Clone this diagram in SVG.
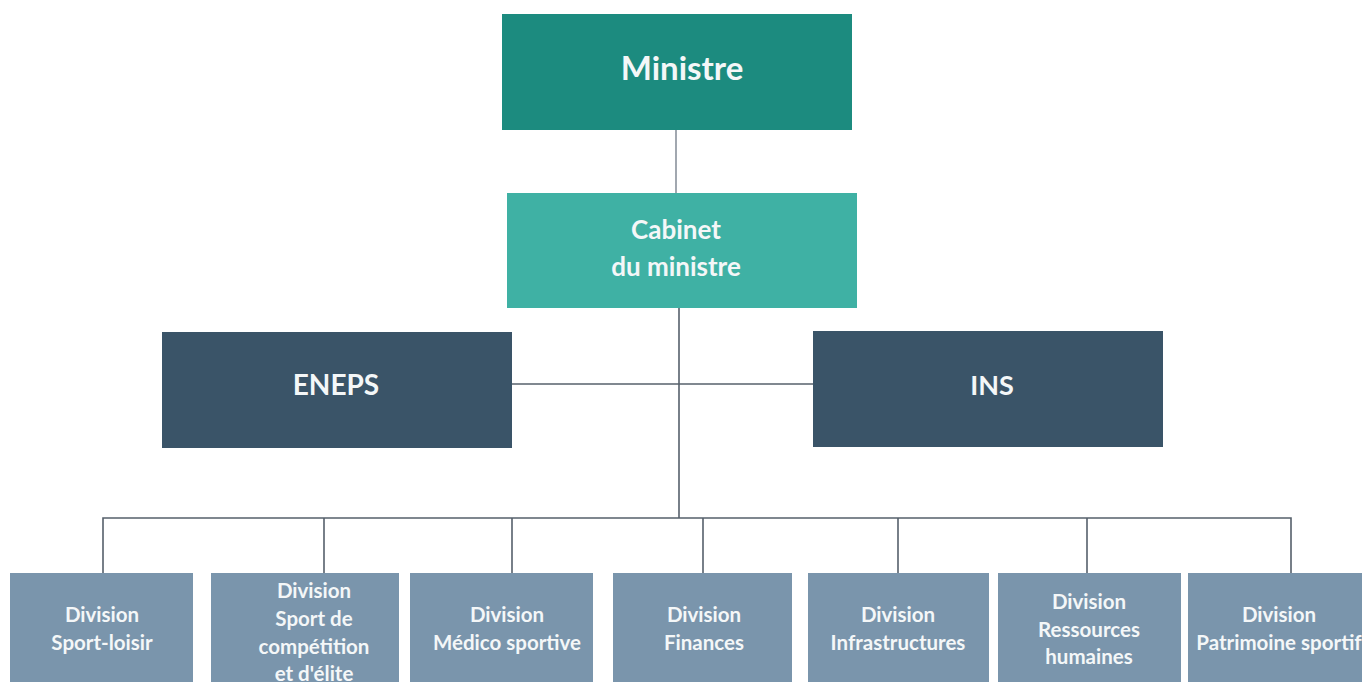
<svg xmlns="http://www.w3.org/2000/svg" width="1362" height="682" viewBox="0 0 1362 682">
<style>
text{font-family:Lato,"Open Sans","Liberation Sans",sans-serif;font-weight:bold;fill:#f4f7f8;text-anchor:middle;dominant-baseline:central}
.ln{stroke:#56606b;stroke-width:1.6;fill:none}
.div rect{fill:#7a95ac}
.div text{font-size:20.5px}
</style>
<rect width="1362" height="682" fill="#ffffff"/>
<g id="connectors">
<line class="ln" x1="676" y1="130" x2="676" y2="193" style="stroke:#8a929c"/>
<line class="ln" x1="679" y1="308" x2="679" y2="518"/>
<line class="ln" x1="512" y1="384" x2="813" y2="384"/>
<polyline class="ln" points="103,573 103,518 1291,518 1291,573"/>
<line class="ln" x1="324" y1="518" x2="324" y2="573"/>
<line class="ln" x1="512" y1="518" x2="512" y2="573"/>
<line class="ln" x1="703" y1="518" x2="703" y2="573"/>
<line class="ln" x1="898" y1="518" x2="898" y2="573"/>
<line class="ln" x1="1087" y1="518" x2="1087" y2="573"/>
</g>
<g id="ministre">
<rect x="502" y="14" width="350" height="116" fill="#1c8b7f"/>
<text x="682" y="67" font-size="33">Ministre</text>
</g>
<g id="cabinet">
<rect x="507" y="193" width="350" height="115" fill="#3fb1a4"/>
<text x="676" y="229" font-size="26">Cabinet</text>
<text x="676" y="266" font-size="26">du ministre</text>
</g>
<g id="eneps">
<rect x="162" y="332" width="350" height="116" fill="#3a5468"/>
<text x="336" y="384" font-size="28">ENEPS</text>
</g>
<g id="ins">
<rect x="813" y="331" width="350" height="116" fill="#3a5468"/>
<text x="992" y="384" font-size="27">INS</text>
</g>
<g id="div1" class="div">
<rect x="10" y="573" width="183" height="115"/>
<text x="102" y="614">Division</text>
<text x="102" y="642">Sport-loisir</text>
</g>
<g id="div2" class="div">
<rect x="211" y="573" width="188" height="115"/>
<text x="314" y="590">Division</text>
<text x="314" y="618">Sport de</text>
<text x="314" y="646">compétition</text>
<text x="314" y="673">et d'élite</text>
</g>
<g id="div3" class="div">
<rect x="410" y="573" width="183" height="115"/>
<text x="507" y="614">Division</text>
<text x="507" y="642">Médico sportive</text>
</g>
<g id="div4" class="div">
<rect x="613" y="573" width="179" height="115"/>
<text x="704" y="614">Division</text>
<text x="704" y="642">Finances</text>
</g>
<g id="div5" class="div">
<rect x="808" y="573" width="181" height="115"/>
<text x="898" y="614">Division</text>
<text x="898" y="642">Infrastructures</text>
</g>
<g id="div6" class="div">
<rect x="998" y="573" width="183" height="115"/>
<text x="1089" y="601">Division</text>
<text x="1089" y="629">Ressources</text>
<text x="1089" y="656">humaines</text>
</g>
<g id="div7" class="div">
<rect x="1188" y="573" width="180" height="115"/>
<text x="1279" y="614">Division</text>
<text x="1279" y="642">Patrimoine sportif</text>
</g>
</svg>
